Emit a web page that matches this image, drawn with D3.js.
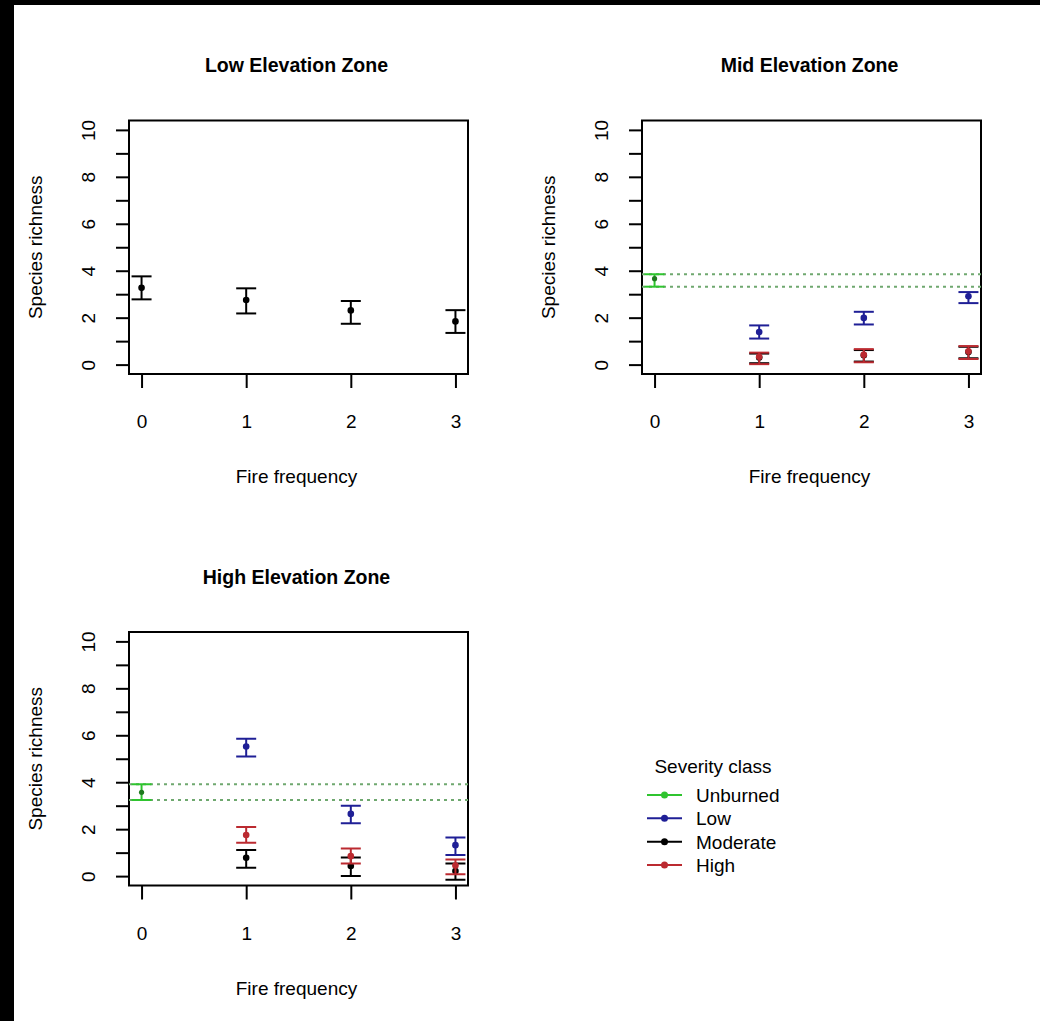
<!DOCTYPE html>
<html>
<head>
<meta charset="utf-8">
<script src="https://cdn.jsdelivr.net/npm/d3@7/dist/d3.min.js"></script>
<style>
body { margin: 0; background: #fff; }
text { font-family: "Liberation Sans", Arial, sans-serif; fill: #000; }
</style>
</head>
<body>
<div id="main_div"></div>
<script>
// fire frequency categories and severity classes
var fireFreq = [0, 1, 2, 3];
var severity = ["Unburned", "Low", "Moderate", "High"];
var sevColors = ["#2fc42f", "#1f1f96", "#000000", "#bb2a30"];
var yTicks = [0, 1, 2, 3, 4, 5, 6, 7, 8, 9, 10];

// rows: [fire freq, mean, lower, upper]
var lowZoneAll = [[0, 3.27, 2.78, 3.76], [1, 2.75, 2.18, 3.25], [2, 2.31, 1.74, 2.71], [3, 1.84, 1.35, 2.32]];

var midUnburned = [[0, 3.66, 3.32, 3.85]];
var midLow = [[1, 1.39, 1.11, 1.67], [2, 1.99, 1.71, 2.25], [3, 2.91, 2.62, 3.09]];
var midModerate = [[1, 0.30, 0.06, 0.47], [2, 0.40, 0.13, 0.62], [3, 0.54, 0.27, 0.76]];
var midHigh = [[1, 0.33, 0.02, 0.51], [2, 0.42, 0.10, 0.66], [3, 0.57, 0.24, 0.79]];

var highUnburned = [[0, 3.57, 3.24, 3.91]];
var highLow = [[1, 5.52, 5.10, 5.85], [2, 2.65, 2.25, 3.00], [3, 1.32, 0.90, 1.65]];
var highModerate = [[1, 0.78, 0.36, 1.11], [2, 0.43, 0.00, 0.79], [3, 0.22, -0.15, 0.54]];
var highHigh = [[1, 1.75, 1.42, 2.09], [2, 0.85, 0.54, 1.18], [3, 0.45, 0.08, 0.71]];

var panels = [
    {title: "Low Elevation Zone", dx: 0, dy: 0, unburned: null,
     series: [{data: lowZoneAll, col: "#000000"}]},
    {title: "Mid Elevation Zone", dx: 513, dy: 0, unburned: midUnburned,
     series: [{data: midLow, col: sevColors[1]}, {data: midModerate, col: sevColors[2]}, {data: midHigh, col: sevColors[3]}]},
    {title: "High Elevation Zone", dx: 0, dy: 511.5, unburned: highUnburned,
     series: [{data: highLow, col: sevColors[1]}, {data: highModerate, col: sevColors[2]}, {data: highHigh, col: sevColors[3]}]}
];

var W = 1040, H = 1021;
var svg = d3.select("#main_div").append("svg").attr("width", W).attr("height", H);
svg.append("rect").attr("width", W).attr("height", H).attr("fill", "#fff");

// box of the first panel
var box = {left: 129, right: 468, top: 120.5, bottom: 374};
var capW = 10;

panels.forEach(function(p, i) {
    var g = svg.append("g").attr("transform", "translate(" + p.dx + "," + p.dy + ")");
    var x_scale = d3.scaleLinear().domain([-0.12, 3.12]).range([box.left, box.right]);
    var y_scale = d3.scaleLinear().domain([-0.4, 10.4]).range([box.bottom, box.top]);

    g.append("clipPath").attr("id", "clip" + i).append("rect")
        .attr("x", box.left).attr("y", box.top)
        .attr("width", box.right - box.left).attr("height", box.bottom - box.top);

    var gy = g.append("g").attr("transform", "translate(" + box.left + ",0)")
        .call(d3.axisLeft(y_scale).tickValues(yTicks).tickSize(13)
            .tickFormat(function(d) { return d % 2 === 0 ? d : ""; }));
    gy.select(".domain").remove();
    gy.selectAll("line").attr("stroke", "#000").attr("stroke-width", 2);
    gy.selectAll("text").attr("transform", "rotate(-90)").attr("x", 0).attr("y", -34)
        .attr("dy", 0).style("text-anchor", "middle").style("font-size", "19px")
        .style("font-family", "Liberation Sans, Arial, sans-serif").attr("fill", "#000");

    var gx = g.append("g").attr("transform", "translate(0," + box.bottom + ")")
        .call(d3.axisBottom(x_scale).tickValues(fireFreq).tickSize(14).tickFormat(d3.format("d")));
    gx.select(".domain").remove();
    gx.selectAll("line").attr("stroke", "#000").attr("stroke-width", 2);
    gx.selectAll("text").attr("y", 54).attr("dy", 0).style("font-size", "19px")
        .style("font-family", "Liberation Sans, Arial, sans-serif").attr("fill", "#000");

    g.append("rect").attr("x", box.left).attr("y", box.top)
        .attr("width", box.right - box.left).attr("height", box.bottom - box.top)
        .attr("fill", "none").attr("stroke", "#000").attr("stroke-width", 2);

    var cx = (box.left + box.right) / 2 - 2;
    g.append("text").attr("x", cx).attr("y", 72).attr("text-anchor", "middle")
        .style("font-size", "19.5px").style("font-weight", "bold").text(p.title);
    g.append("text").attr("x", cx).attr("y", 483).attr("text-anchor", "middle")
        .style("font-size", "19px").text("Fire frequency");
    g.append("text").attr("transform", "translate(42," + ((box.top + box.bottom) / 2) + ") rotate(-90)")
        .attr("text-anchor", "middle").style("font-size", "19px").text("Species richness");

    var plot = g.append("g").attr("clip-path", "url(#clip" + i + ")");

    function errbars(data, col, lw) {
        var s = plot.append("g");
        s.selectAll("line.v").data(data).enter().append("line")
            .attr("x1", function(d) { return x_scale(d[0]); })
            .attr("x2", function(d) { return x_scale(d[0]); })
            .attr("y1", function(d) { return y_scale(d[2]); })
            .attr("y2", function(d) { return y_scale(d[3]); })
            .attr("stroke", col).attr("stroke-width", lw);
        [2, 3].forEach(function(k) {
            s.selectAll("line.c" + k).data(data).enter().append("line")
                .attr("x1", function(d) { return x_scale(d[0]) - capW; })
                .attr("x2", function(d) { return x_scale(d[0]) + capW; })
                .attr("y1", function(d) { return y_scale(d[k]); })
                .attr("y2", function(d) { return y_scale(d[k]); })
                .attr("stroke", col).attr("stroke-width", lw);
        });
        s.selectAll("circle").data(data).enter().append("circle")
            .attr("cx", function(d) { return x_scale(d[0]); })
            .attr("cy", function(d) { return y_scale(d[1]); })
            .attr("r", 3.3).attr("fill", col);
    }

    if (p.unburned) {
        var u = p.unburned[0];
        [u[2], u[3]].forEach(function(v) {
            plot.append("line").attr("x1", box.left).attr("x2", box.right)
                .attr("y1", y_scale(v)).attr("y2", y_scale(v))
                .attr("stroke", "#6fa86f").attr("stroke-width", 2).attr("stroke-dasharray", "3,4");
        });
        errbars(p.unburned, sevColors[0], 2);
        plot.selectAll("circle").attr("fill", "#1f7a1f").attr("r", 2.6);
    }
    p.series.forEach(function(s) { errbars(s.data, s.col, 2); });
});

// legend
var lg = svg.append("g");
lg.append("text").attr("x", 713).attr("y", 773).attr("text-anchor", "middle")
    .style("font-size", "19px").text("Severity class");
var rowY = d3.scaleLinear().domain([0, 3]).range([795, 865]);
var rows = lg.selectAll("g.row").data(severity).enter().append("g");
rows.append("line").attr("x1", 647).attr("x2", 682)
    .attr("y1", function(d, i) { return rowY(i); }).attr("y2", function(d, i) { return rowY(i); })
    .attr("stroke", function(d, i) { return sevColors[i]; }).attr("stroke-width", 2);
rows.append("circle").attr("cx", 664.5).attr("cy", function(d, i) { return rowY(i); })
    .attr("r", 3.5).attr("fill", function(d, i) { return sevColors[i]; });
rows.append("text").attr("x", 696).attr("y", function(d, i) { return rowY(i) + 7; })
    .style("font-size", "19px").text(function(d) { return d; });

// black strips along the left and top edges of the picture
svg.append("rect").attr("x", 0).attr("y", 0).attr("width", 14).attr("height", H).attr("fill", "#000");
svg.append("rect").attr("x", 0).attr("y", 0).attr("width", W).attr("height", 5).attr("fill", "#000");
</script>
</body>
</html>
